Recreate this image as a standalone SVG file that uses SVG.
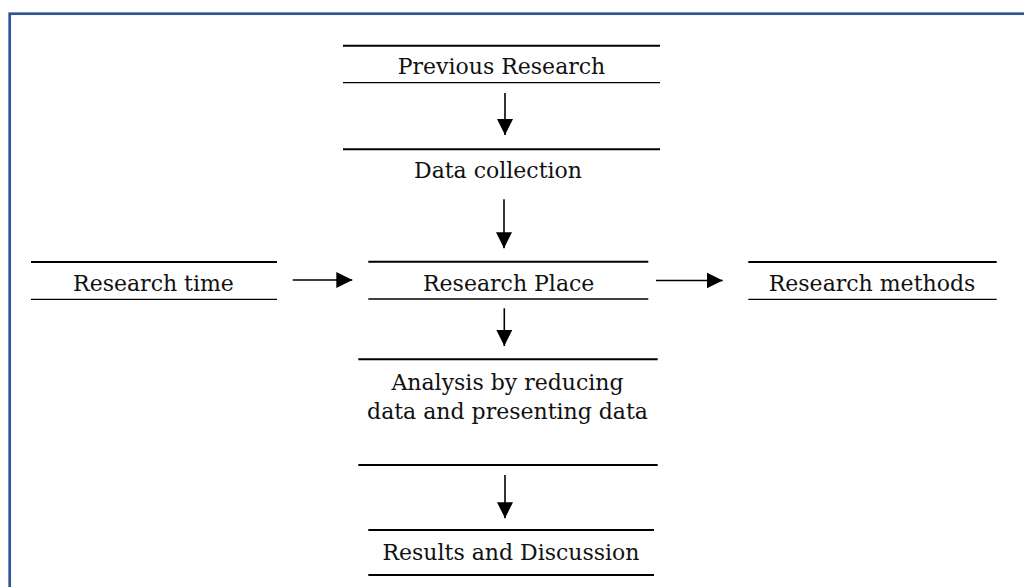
<svg xmlns="http://www.w3.org/2000/svg" width="1024" height="587" viewBox="0 0 1024 587">
  <defs>
    <marker id="ah" markerWidth="16" markerHeight="16" viewBox="0 0 16 16" refX="16" refY="8" orient="auto" markerUnits="userSpaceOnUse">
      <path d="M0,0 L16,8 L0,16 Z" fill="#000"/>
    </marker>
    <style>
      .t { font-family: "DejaVu Serif", "Liberation Serif", serif; font-size: 22px; fill: #111; text-anchor: middle; }
      .top { stroke: #000; stroke-width: 2; }
      .bot { stroke: #000; stroke-width: 1.3; }
      .arr { stroke: #000; stroke-width: 1.6; fill: none; marker-end: url(#ah); }
    </style>
  </defs>
  <rect width="1024" height="587" fill="#fff"/>
  <rect x="9.7" y="13.7" width="1040" height="600" fill="none" stroke="#2F5597" stroke-width="2.7"/>

  <g id="previous-research">
    <line class="top" x1="343" y1="45.7" x2="660" y2="45.7"/>
    <text class="t" x="501.5" y="74">Previous Research</text>
    <line class="bot" x1="343" y1="82.7" x2="660" y2="82.7"/>
  </g>
  <g id="data-collection">
    <line class="top" x1="343" y1="149.3" x2="660" y2="149.3"/>
    <text class="t" x="498" y="177.7">Data collection</text>
  </g>
  <g id="research-time">
    <line class="top" x1="31" y1="262" x2="277" y2="262"/>
    <text class="t" x="153.5" y="290.7">Research time</text>
    <line class="bot" x1="31" y1="299.3" x2="277" y2="299.3"/>
  </g>
  <g id="research-place">
    <line class="top" x1="368.3" y1="261.7" x2="648.3" y2="261.7"/>
    <text class="t" x="508.7" y="290.7">Research Place</text>
    <line class="bot" x1="368.3" y1="299" x2="648.3" y2="299"/>
  </g>
  <g id="research-methods">
    <line class="top" x1="748.3" y1="262" x2="996.7" y2="262"/>
    <text class="t" x="872" y="290.7">Research methods</text>
    <line class="bot" x1="748.3" y1="299.3" x2="996.7" y2="299.3"/>
  </g>
  <g id="analysis">
    <line class="top" x1="358.3" y1="359.3" x2="657.7" y2="359.3"/>
    <text class="t" x="507.5" y="389.5">Analysis by reducing</text>
    <text class="t" x="507.5" y="418.5">data and presenting data</text>
    <line class="top" x1="358.3" y1="465" x2="657.7" y2="465"/>
  </g>
  <g id="results">
    <line class="top" x1="368.3" y1="530" x2="654" y2="530"/>
    <text class="t" x="511" y="560">Results and Discussion</text>
    <line class="top" x1="368.3" y1="575" x2="654" y2="575"/>
  </g>

  <g id="connectors">
    <line class="arr" x1="505" y1="93" x2="505" y2="135"/>
    <line class="arr" x1="504" y1="199.3" x2="504" y2="248.3"/>
    <line class="arr" x1="292.7" y1="280" x2="352.3" y2="280"/>
    <line class="arr" x1="656" y1="280.5" x2="722.7" y2="280.5"/>
    <line class="arr" x1="504.3" y1="308.3" x2="504.3" y2="346"/>
    <line class="arr" x1="505" y1="475" x2="505" y2="518.3"/>
  </g>
</svg>
